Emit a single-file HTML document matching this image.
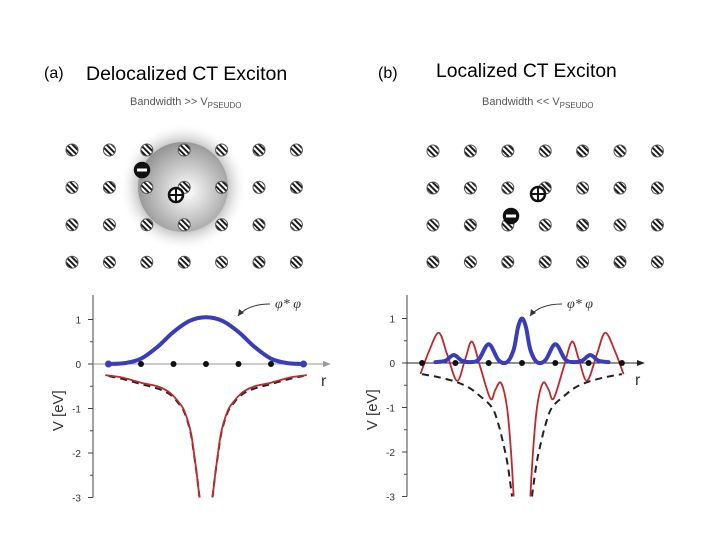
<!DOCTYPE html>
<html><head><meta charset="utf-8"><style>
body{margin:0;background:#fff}
svg{display:block;font-family:"Liberation Sans",sans-serif}
</style></head><body>
<svg id="fig" width="720" height="540" viewBox="0 0 720 540">
<defs>
<pattern id="hatch" patternUnits="userSpaceOnUse" width="4" height="4" patternTransform="rotate(-45)">
<rect width="4" height="4" fill="#fff"/><rect width="2" height="4" fill="#1a1a1a"/>
</pattern>
<radialGradient id="sph" cx="0.55" cy="0.55" r="0.6">
<stop offset="0" stop-color="#fff"/><stop offset="0.75" stop-color="#aaa"/><stop offset="1" stop-color="#8c8c8c"/>
</radialGradient>
<radialGradient id="halo" cx="0.5" cy="0.5" r="0.5">
<stop offset="0.6" stop-color="#999" stop-opacity="0.9"/><stop offset="0.8" stop-color="#ccc" stop-opacity="0.5"/><stop offset="1" stop-color="#fff" stop-opacity="0"/>
</radialGradient>
</defs>
<text x="44" y="78" font-size="16">(a)</text>
<text x="86" y="80" font-size="19.5">Delocalized CT Exciton</text>
<text x="378" y="78" font-size="16">(b)</text>
<text x="436" y="77" font-size="19.3">Localized CT Exciton</text>
<text x="130" y="105" font-size="11" fill="#555">Bandwidth &gt;&gt; V<tspan font-size="8" dy="3">PSEUDO</tspan></text>
<text x="482" y="105" font-size="11" fill="#555">Bandwidth &lt;&lt; V<tspan font-size="8" dy="3">PSEUDO</tspan></text>
<circle cx="183" cy="187" r="64" fill="url(#halo)"/>
<circle cx="183" cy="187" r="45" fill="url(#sph)"/>
<g id="lat"></g>
<g id="plots"></g>
</svg>
<script>
// ---- data (r in lattice units, V in eV); curves are symmetric, left half given ----
const latticeCols = [0,1,2,3,4,5,6];
const latticeRows = [0,1,2,3];
const siteA = [-2,-1,0,1,2];
const siteB = [-3,-2,-1,0,1,2,3];
const redA_r = [-3.1,-2.6,-2,-1.5,-1.2,-1,-0.85,-0.7,-0.55,-0.45,-0.37,-0.28,-0.2];
const redA_v = [-0.25,-0.3,-0.42,-0.5,-0.6,-0.72,-0.85,-1.0,-1.3,-1.6,-2.0,-2.5,-3.0];
const dashA_r = [-3,-2.6,-2,-1.5,-1.2,-1,-0.85,-0.7,-0.55,-0.45,-0.37,-0.28,-0.2];
const dashA_v = [-0.27,-0.33,-0.45,-0.55,-0.64,-0.75,-0.88,-1.03,-1.33,-1.63,-2.03,-2.5,-3.0];
const blueA_r = [-3,-2.5,-2,-1.5,-1,-0.5,0];
const blueA_v = [0,0.02,0.12,0.38,0.72,0.97,1.05];
const redB_r = [-3.05,-2.8,-2.5,-2.25,-1.95,-1.7,-1.5,-1.25,-0.95,-0.8,-0.63,-0.45,-0.33,-0.25];
const redB_v = [-0.25,0.25,0.68,0.2,-0.4,0.1,0.48,-0.1,-0.8,-0.6,-0.45,-1.0,-2.0,-3.0];
const dashB_r = [-3,-2.5,-2,-1.6,-1.3,-0.9,-0.7,-0.55,-0.45,-0.37,-0.3];
const dashB_v = [-0.25,-0.32,-0.42,-0.55,-0.72,-1.0,-1.4,-1.85,-2.2,-2.6,-3.0];
const blueB_r = [-2.6,-2.3,-2.05,-1.8,-1.55,-1.3,-1,-0.7,-0.45,-0.25,-0.12,0];
const blueB_v = [0.02,0.05,0.18,0.05,0.02,0.08,0.42,0.06,0.02,0.3,0.8,1.0];
const yTicks = [1,0,-1,-2,-3];

const NS="http://www.w3.org/2000/svg";
function mk(tag,attrs,parent){const e=document.createElementNS(NS,tag);for(const k in attrs)e.setAttribute(k,attrs[k]);parent.appendChild(e);return e;}
function mirror(rs,vs){const R=rs.slice(),V=vs.slice();for(let i=rs.length-1;i>=0;i--){if(rs[i]>=0)continue;R.push(-rs[i]);V.push(vs[i]);}return [R,V];}
function path(pts){let d="M"+pts[0][0]+","+pts[0][1];for(let i=0;i<pts.length-1;i++){const p0=pts[i-1]||pts[i],p1=pts[i],p2=pts[i+1],p3=pts[i+2]||p2;
d+=" C"+(p1[0]+(p2[0]-p0[0])/6)+","+(p1[1]+(p2[1]-p0[1])/6)+" "+(p2[0]-(p3[0]-p1[0])/6)+","+(p2[1]-(p3[1]-p1[1])/6)+" "+p2[0]+","+p2[1];}return d;}

const lat=document.getElementById('lat');
function lattice(x0,dx,y0,dy,name){latticeRows.forEach(r=>latticeCols.forEach(c=>{
const e=mk('circle',{cx:x0+c*dx,cy:y0+r*dy,r:6,fill:'url(#hatch)',stroke:'#555','stroke-width':1},lat);

}));}
lattice(72,37.4,150,37.4,'a');
lattice(433,37.4,151,37,'b');
function charge(x,y,plus,name){const g=mk('g',{},lat);


mk('circle',{cx:x,cy:y,r:7,fill:plus?'#fff':'#111',stroke:'#111','stroke-width':2.5},g);
if(plus){mk('path',{d:`M${x-6},${y}H${x+6}M${x},${y-6}V${y+6}`,stroke:'#111','stroke-width':2},g);}
else mk('rect',{x:x-5,y:y-1.5,width:10,height:3,fill:'#fff'},g);}
charge(142,170,false,'a-electron');charge(176,195,true,'a-hole');
charge(538,194,true,'b-hole');charge(511,216,false,'b-electron');

const plots=document.getElementById('plots');
function panel(p){
const X=r=>p.cx+r*p.sp, Y=v=>p.y0-v*p.uy;
const g=mk('g',{},plots);


mk('line',{x1:p.ax,y1:Y(-3),x2:p.ax,y2:295,stroke:'#444','stroke-width':1},g);
yTicks.forEach(t=>{mk('line',{x1:p.ax,y1:Y(t),x2:p.ax-5,y2:Y(t),stroke:'#444'},g);
const tx=mk('text',{x:p.ax-12,y:Y(t)+4,'font-size':10,'text-anchor':'end',fill:'#333'},g);tx.textContent=t;


if(t>-3)mk('line',{x1:p.ax,y1:Y(t-0.5),x2:p.ax-3,y2:Y(t-0.5),stroke:'#444'},g);});
mk('line',{x1:p.ax,y1:Y(0),x2:p.ax+232,y2:Y(0),stroke:p.axc,'stroke-width':1},g);
mk('path',{d:`M${p.ax+238},${Y(0)} l-8,-3 v6z`,fill:p.axc},g);
const rl=mk('text',{x:p.ax+228,y:Y(0)+22,'font-size':16,fill:'#333'},g);rl.textContent='r';


const yl=mk('text',{x:0,y:0,'font-size':15,fill:'#333','text-anchor':'middle',transform:`translate(${p.ax-30},${Y(-1.05)}) rotate(-90)`},g);yl.textContent='V [eV]';


[[p.dash,'#222',2,'7,5','dashed-potential'],[p.red,'#c0282c',1.8,null,'pseudo-potential']].forEach(([d,c,w,da,nm])=>{
const [R,V]=mirror(d[0],d[1]);
const L=[],Rt=[];R.forEach((r,i)=>{(r<0?L:Rt).push([X(r),Y(V[i])]);});
[L,Rt].forEach(pts=>{const e=mk('path',{d:path(pts),fill:'none',stroke:c,'stroke-width':w},g);if(da)e.setAttribute('stroke-dasharray',da);

});});
const [BR,BV]=mirror(p.blue[0],p.blue[1]);
const bp=mk('path',{d:path(BR.map((r,i)=>[X(r),Y(BV[i])])),fill:'none',stroke:'#3a3dbb','stroke-width':4,'stroke-linecap':'round'},g);


if(p.blueEnds){[0,BR.length-1].forEach(i=>{const c=mk('circle',{cx:X(BR[i]),cy:Y(BV[i]),r:3.5,fill:'#3a3dbb'},g);

});}
p.sites.forEach(r=>{const c=mk('circle',{cx:X(r),cy:Y(0),r:3,fill:'#111'},g);

});
mk('path',{d:`M${p.cx+p.ann[0]},${p.ann[1]} q-22,0 -32,12`,fill:'none',stroke:'#333','stroke-width':1},g);
mk('path',{d:`M${p.cx+p.ann[0]-32},${p.ann[1]+12} l1,-7 l5,4z`,fill:'#333'},g);
const at=mk('text',{x:p.cx+p.ann[0]+5,y:p.ann[1]+4,'font-size':14,'font-style':'italic',fill:'#333','font-family':'Liberation Serif,serif'},g);at.textContent='φ* φ';


}
panel({name:'a',cx:206,sp:32.5,y0:364,uy:44.5,ax:93,axc:'#999',red:[redA_r,redA_v],dash:[dashA_r,dashA_v],blue:[blueA_r,blueA_v],ann:[64,304],sites:siteA,blueEnds:true});
panel({name:'b',cx:522,sp:33.3,y0:363,uy:44.5,ax:407,axc:'#222',red:[redB_r,redB_v],dash:[dashB_r,dashB_v],blue:[blueB_r,blueB_v],ann:[40,304],sites:siteB,blueEnds:false});
</script>
</body></html>
